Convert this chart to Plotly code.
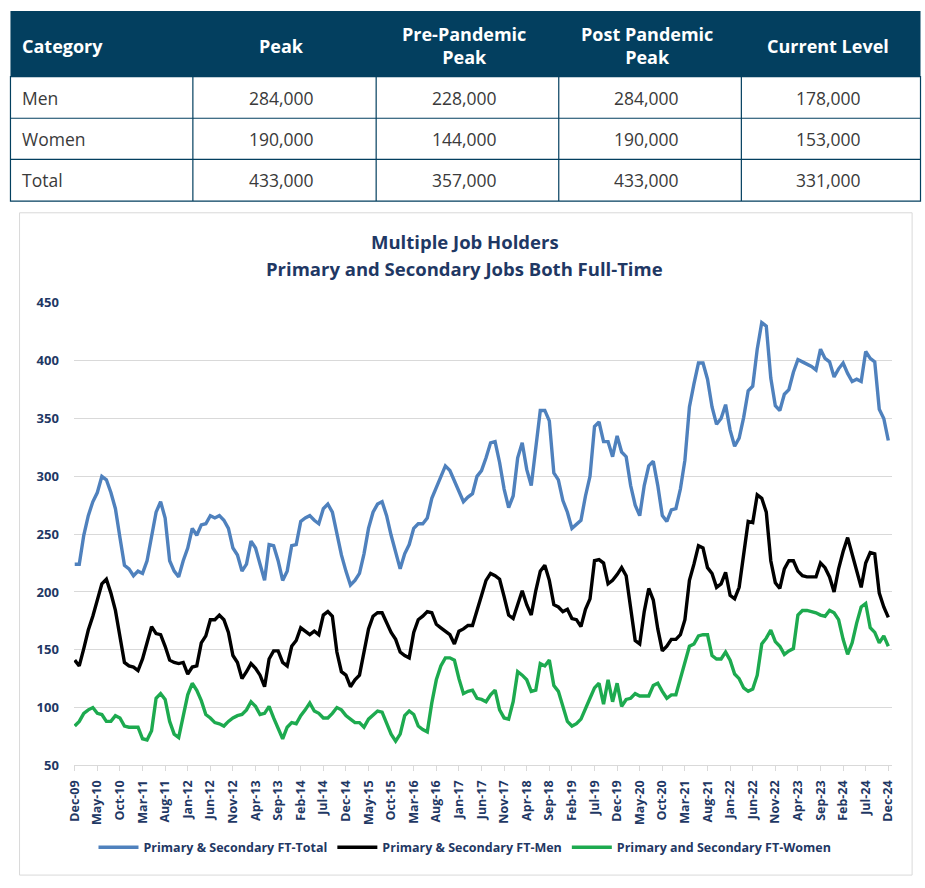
import plotly.graph_objects as go

# ---------------- table data ----------------
table_header = ["Category", "Peak", "Pre-Pandemic<br>Peak", "Post Pandemic<br>Peak", "Current Level"]
table_categories = ["Men", "Women", "Total"]
peak = ["284,000", "190,000", "433,000"]
pre_pandemic_peak = ["228,000", "144,000", "357,000"]
post_pandemic_peak = ["284,000", "190,000", "433,000"]
current_level = ["178,000", "153,000", "331,000"]

# ---------------- chart data (thousands, monthly Dec-09 .. Dec-24) ----------------
tick_labels = ["Dec-09", "May-10", "Oct-10", "Mar-11", "Aug-11", "Jan-12", "Jun-12", "Nov-12",
               "Apr-13", "Sep-13", "Feb-14", "Jul-14", "Dec-14", "May-15", "Oct-15", "Mar-16",
               "Aug-16", "Jan-17", "Jun-17", "Nov-17", "Apr-18", "Sep-18", "Feb-19", "Jul-19",
               "Dec-19", "May-20", "Oct-20", "Mar-21", "Aug-21", "Jan-22", "Jun-22", "Nov-22",
               "Apr-23", "Sep-23", "Feb-24", "Jul-24", "Dec-24"]

total = [224, 224, 249, 266, 278, 286, 300, 297, 286, 272, 247, 223, 220, 214, 218, 216, 227, 249, 269, 278,
         264, 227, 218, 213, 227, 238, 255, 249, 258, 259, 266, 264, 266, 262, 255, 238, 232, 218, 224, 244,
         238, 224, 210, 241, 240, 227, 210, 218, 240, 241, 261, 264, 266, 262, 259, 272, 276, 269, 249, 232,
         218, 206, 210, 216, 233, 255, 269, 276, 278, 266, 249, 233, 220, 233, 241, 255, 259, 259, 264, 281,
         290, 300, 309, 305, 296, 286, 278, 282, 285, 300, 305, 316, 329, 330, 312, 289, 273, 283, 316, 329,
         306, 292, 326, 357, 357, 348, 303, 297, 279, 269, 255, 259, 262, 283, 300, 343, 347, 330, 330, 317,
         335, 321, 317, 292, 275, 266, 292, 309, 313, 292, 266, 261, 271, 272, 289, 314, 360, 380, 398, 398,
         384, 360, 345, 350, 362, 340, 326, 333, 351, 374, 378, 410, 433, 430, 385, 361, 357, 371, 375, 390,
         401, 399, 397, 395, 392, 410, 402, 399, 386, 393, 398, 389, 382, 384, 382, 408, 402, 399, 358, 350,
         331]

men = [141, 136, 151, 167, 179, 193, 207, 211, 199, 184, 162, 139, 136, 135, 132, 142, 156, 170, 164, 163,
       153, 141, 139, 138, 139, 129, 135, 136, 156, 162, 176, 176, 180, 176, 165, 145, 139, 125, 131, 138,
       134, 128, 118, 142, 149, 149, 139, 136, 153, 158, 169, 166, 163, 166, 163, 180, 183, 179, 148, 131,
       128, 118, 124, 128, 149, 168, 179, 182, 182, 173, 165, 159, 148, 145, 143, 165, 176, 179, 183, 182,
       172, 169, 166, 163, 155, 166, 168, 171, 171, 185, 197, 210, 216, 214, 211, 196, 180, 177, 190, 201,
       189, 180, 201, 218, 223, 210, 189, 187, 183, 185, 177, 176, 170, 185, 194, 227, 228, 225, 207, 210,
       215, 221, 214, 187, 158, 155, 183, 203, 193, 168, 149, 153, 159, 159, 163, 176, 210, 224, 240, 238,
       221, 216, 204, 207, 217, 197, 194, 204, 233, 261, 260, 284, 281, 269, 227, 208, 203, 220, 227, 227,
       218, 214, 213, 213, 213, 225, 221, 213, 200, 220, 235, 247, 233, 217, 204, 225, 234, 233, 199, 187,
       178]

women = [84, 88, 95, 98, 100, 95, 94, 88, 88, 93, 91, 84, 83, 83, 83, 73, 72, 80, 108, 112,
         107, 88, 77, 74, 91, 111, 121, 115, 106, 94, 91, 87, 86, 84, 88, 91, 93, 94, 98, 105,
         101, 94, 95, 101, 91, 81, 73, 83, 87, 86, 93, 98, 104, 97, 95, 91, 91, 95, 100, 98,
         93, 90, 87, 87, 83, 90, 94, 97, 96, 86, 77, 71, 77, 93, 97, 94, 84, 81, 79, 104,
         124, 136, 143, 143, 141, 125, 112, 114, 115, 108, 107, 105, 111, 115, 98, 91, 90, 105, 131, 128,
         124, 114, 115, 138, 136, 141, 119, 114, 101, 88, 84, 86, 90, 100, 108, 117, 121, 103, 124, 105,
         121, 101, 107, 108, 112, 110, 110, 110, 119, 121, 114, 108, 111, 111, 125, 138, 153, 155, 162, 163,
         163, 145, 142, 142, 148, 141, 129, 125, 117, 114, 116, 128, 155, 160, 167, 157, 153, 146, 149, 151,
         180, 184, 184, 183, 182, 180, 179, 184, 182, 176, 159, 146, 156, 173, 187, 190, 169, 165, 156, 162,
         153]

series_names = ["Primary & Secondary FT-Total", "Primary & Secondary FT-Men", "Primary and Secondary FT-Women"]

# ---------------- styling ----------------
W, H = 925, 888
NAVY = "#033F5F"
TEXT_NAVY = "#1F3864"
BODY_TEXT = "#3A3A3A"
BLUE = "#4F81BD"
BLACK = "#000000"
GREEN = "#1DAA4F"
GRID = "#D9D9D9"
FONT = "Open Sans"


def py(p):
    return 1 - p / H


def px_(p):
    return p / W


months = list(range(len(total)))

fig = go.Figure()

for name, vals, col in zip(series_names, [total, men, women], [BLUE, BLACK, GREEN]):
    fig.add_trace(go.Scatter(
        x=months, y=vals, mode="lines", name=name,
        line=dict(color=col, width=3.4),
    ))

# ---------------- table drawn with shapes + annotations ----------------
tbl_left, tbl_right = 2.5, 924.5
tbl_head_top, tbl_head_bot = 2, 69
row_lines = [111.5, 153.5, 196]
col_lines = [187.3, 373, 558, 743]
col_centers = [None, 277, 462, 647, 831]
row_centers = [91, 133, 175]

shapes = [
    dict(type="rect", xref="paper", yref="paper", x0=px_(tbl_left), x1=px_(tbl_right),
         y0=py(tbl_head_bot), y1=py(tbl_head_top), fillcolor=NAVY, line=dict(width=0)),
    dict(type="rect", xref="paper", yref="paper", x0=px_(tbl_left), x1=px_(tbl_right),
         y0=py(row_lines[-1]), y1=py(tbl_head_bot), fillcolor="rgba(0,0,0,0)", line=dict(color=NAVY, width=1.2)),
]
for r in row_lines[:-1]:
    shapes.append(dict(type="line", xref="paper", yref="paper", x0=px_(tbl_left), x1=px_(tbl_right),
                       y0=py(r), y1=py(r), line=dict(color=NAVY, width=1.2)))
for c in col_lines:
    shapes.append(dict(type="line", xref="paper", yref="paper", x0=px_(c), x1=px_(c),
                       y0=py(row_lines[-1]), y1=py(tbl_head_bot), line=dict(color=NAVY, width=1.2)))

# chart frame
shapes.append(dict(type="rect", xref="paper", yref="paper", x0=px_(11.7), x1=px_(916), y0=py(884), y1=py(208),
                   line=dict(color=GRID, width=1), fillcolor="rgba(0,0,0,0)", layer="below"))

annotations = []
head_y = 37.5
for i, h in enumerate(table_header):
    if i == 0:
        annotations.append(dict(text=f"<b>{h}</b>", x=px_(12.5), y=py(head_y), xref="paper", yref="paper",
                                xanchor="left", yanchor="middle", showarrow=False,
                                font=dict(size=18, color="white", family=FONT)))
    else:
        annotations.append(dict(text=f"<b>{h}</b>", x=px_(col_centers[i]), y=py(head_y), xref="paper",
                                yref="paper", xanchor="center", yanchor="middle", showarrow=False,
                                align="center", font=dict(size=18, color="white", family=FONT)))

columns = [table_categories, peak, pre_pandemic_peak, post_pandemic_peak, current_level]
for ci, col_vals in enumerate(columns):
    for ri, v in enumerate(col_vals):
        if ci == 0:
            annotations.append(dict(text=v, x=px_(12.5), y=py(row_centers[ri]), xref="paper", yref="paper",
                                    xanchor="left", yanchor="middle", showarrow=False,
                                    font=dict(size=17.5, color=BODY_TEXT, family=FONT)))
        else:
            annotations.append(dict(text=v, x=px_(col_centers[ci]), y=py(row_centers[ri]), xref="paper",
                                    yref="paper", xanchor="center", yanchor="middle", showarrow=False,
                                    font=dict(size=17.5, color=BODY_TEXT, family=FONT)))

# chart titles
annotations.append(dict(text="<b>Multiple Job Holders</b>", x=px_(463), y=py(237), xref="paper", yref="paper",
                        showarrow=False, font=dict(size=18.5, color=TEXT_NAVY, family=FONT),
                        xanchor="center", yanchor="middle"))
annotations.append(dict(text="<b>Primary and Secondary Jobs Both Full-Time</b>", x=px_(463), y=py(265),
                        xref="paper", yref="paper", showarrow=False,
                        font=dict(size=18.5, color=TEXT_NAVY, family=FONT),
                        xanchor="center", yanchor="middle"))

fig.update_layout(
    width=W, height=H,
    margin=dict(l=0, r=0, t=0, b=0),
    paper_bgcolor="white",
    plot_bgcolor="white",
    font=dict(family=FONT, color=TEXT_NAVY),
    showlegend=True,
    legend=dict(
        orientation="h", x=px_(463), xanchor="center", y=py(856), yanchor="middle",
        font=dict(size=12.5, color=TEXT_NAVY, weight="bold"),
        itemwidth=40,
    ),
    xaxis=dict(
        domain=[px_(66.7), px_(896)],
        range=[-0.2, 180.9],
        tickmode="array",
        tickvals=list(range(0, 181, 5)),
        ticktext=tick_labels,
        tickangle=-90,
        tickfont=dict(size=12.5, color=TEXT_NAVY, weight="bold"),
        showgrid=False,
        showline=True, linecolor=GRID, linewidth=1,
        ticks="outside", ticklen=5, tickcolor=GRID,
        zeroline=False,
        anchor="y",
        ticklabelstandoff=4,
    ),
    yaxis=dict(
        domain=[py(772), py(300)],
        range=[50, 450],
        tickmode="linear", tick0=50, dtick=50,
        tickfont=dict(size=13, color=TEXT_NAVY, weight="bold"),
        showgrid=True, gridcolor=GRID, gridwidth=1,
        showline=False, zeroline=False,
        ticklabelstandoff=14,
    ),
    shapes=shapes,
    annotations=annotations,
)

fig.write_html("out.html", config={"displayModeBar": False},
               post_script="document.body.style.margin='0px';document.body.style.padding='0px';")
